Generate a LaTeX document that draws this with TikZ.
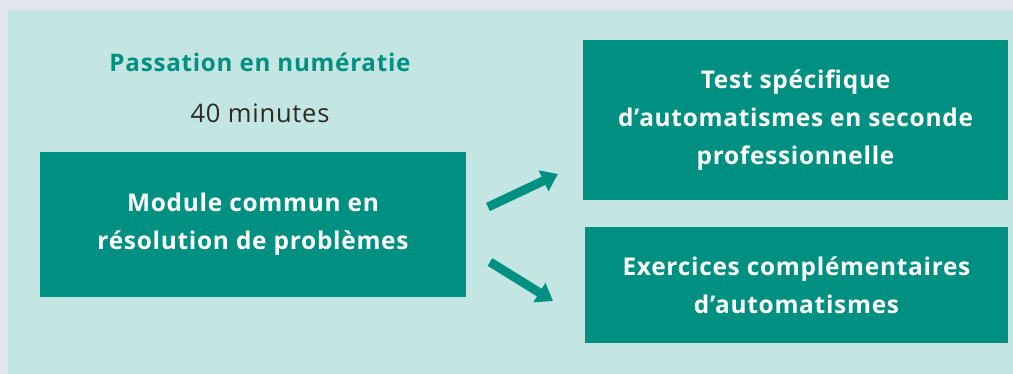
\documentclass[tikz,border=0pt]{standalone}
\usepackage{fontspec}
\setmainfont{Open Sans}
\newfontfamily\spaced[LetterSpace=3]{Open Sans}
\usetikzlibrary{arrows.meta}
\definecolor{teal}{HTML}{009081}
\definecolor{bgteal}{HTML}{C4E6E2}
\definecolor{edge}{HTML}{E4E6EE}
\definecolor{greytext}{HTML}{2A2A2A}
\tikzset{
  box/.style={fill=teal, draw=none, text=white, font=\spaced\fontsize{24.4}{38}\selectfont\bfseries, align=center, inner sep=0pt},
  flow/.style={draw=teal, line width=9pt, -{Triangle[length=16pt,width=22pt]}},
}
\begin{document}
\begin{tikzpicture}[x=1pt,y=-1pt]
\useasboundingbox (0,0) rectangle (1013,374);
\fill[edge] (0,0) rectangle (1013,374);
\fill[bgteal] (8,10) rectangle (1013,374);
\node[box, minimum width=426pt, minimum height=145pt] (left) at (253,224.5) {Module commun en\\résolution de problèmes};
\node[box, minimum width=425pt, minimum height=160pt] (top) at (795.5,120) {Test spécifique\\d’automatismes en seconde\\professionnelle};
\node[box, minimum width=423pt, minimum height=116pt] (bot) at (796.5,285) {Exercices complémentaires\\d’automatismes};
\node[text=teal, font=\spaced\fontsize{24.2}{28}\selectfont\bfseries] (title) at (260,62) {Passation en numératie};
\node[text=greytext, font=\spaced\fontsize{25.5}{28}\selectfont] (dur) at (260,113.5) {40 minutes};
\coordinate (a1s) at (488,207);
\coordinate (a1e) at (558,174);
\coordinate (a2s) at (490,262);
\coordinate (a2e) at (553,301);
\draw[flow] (a1s) -- (a1e);
\draw[flow] (a2s) -- (a2e);
\end{tikzpicture}
\end{document}
